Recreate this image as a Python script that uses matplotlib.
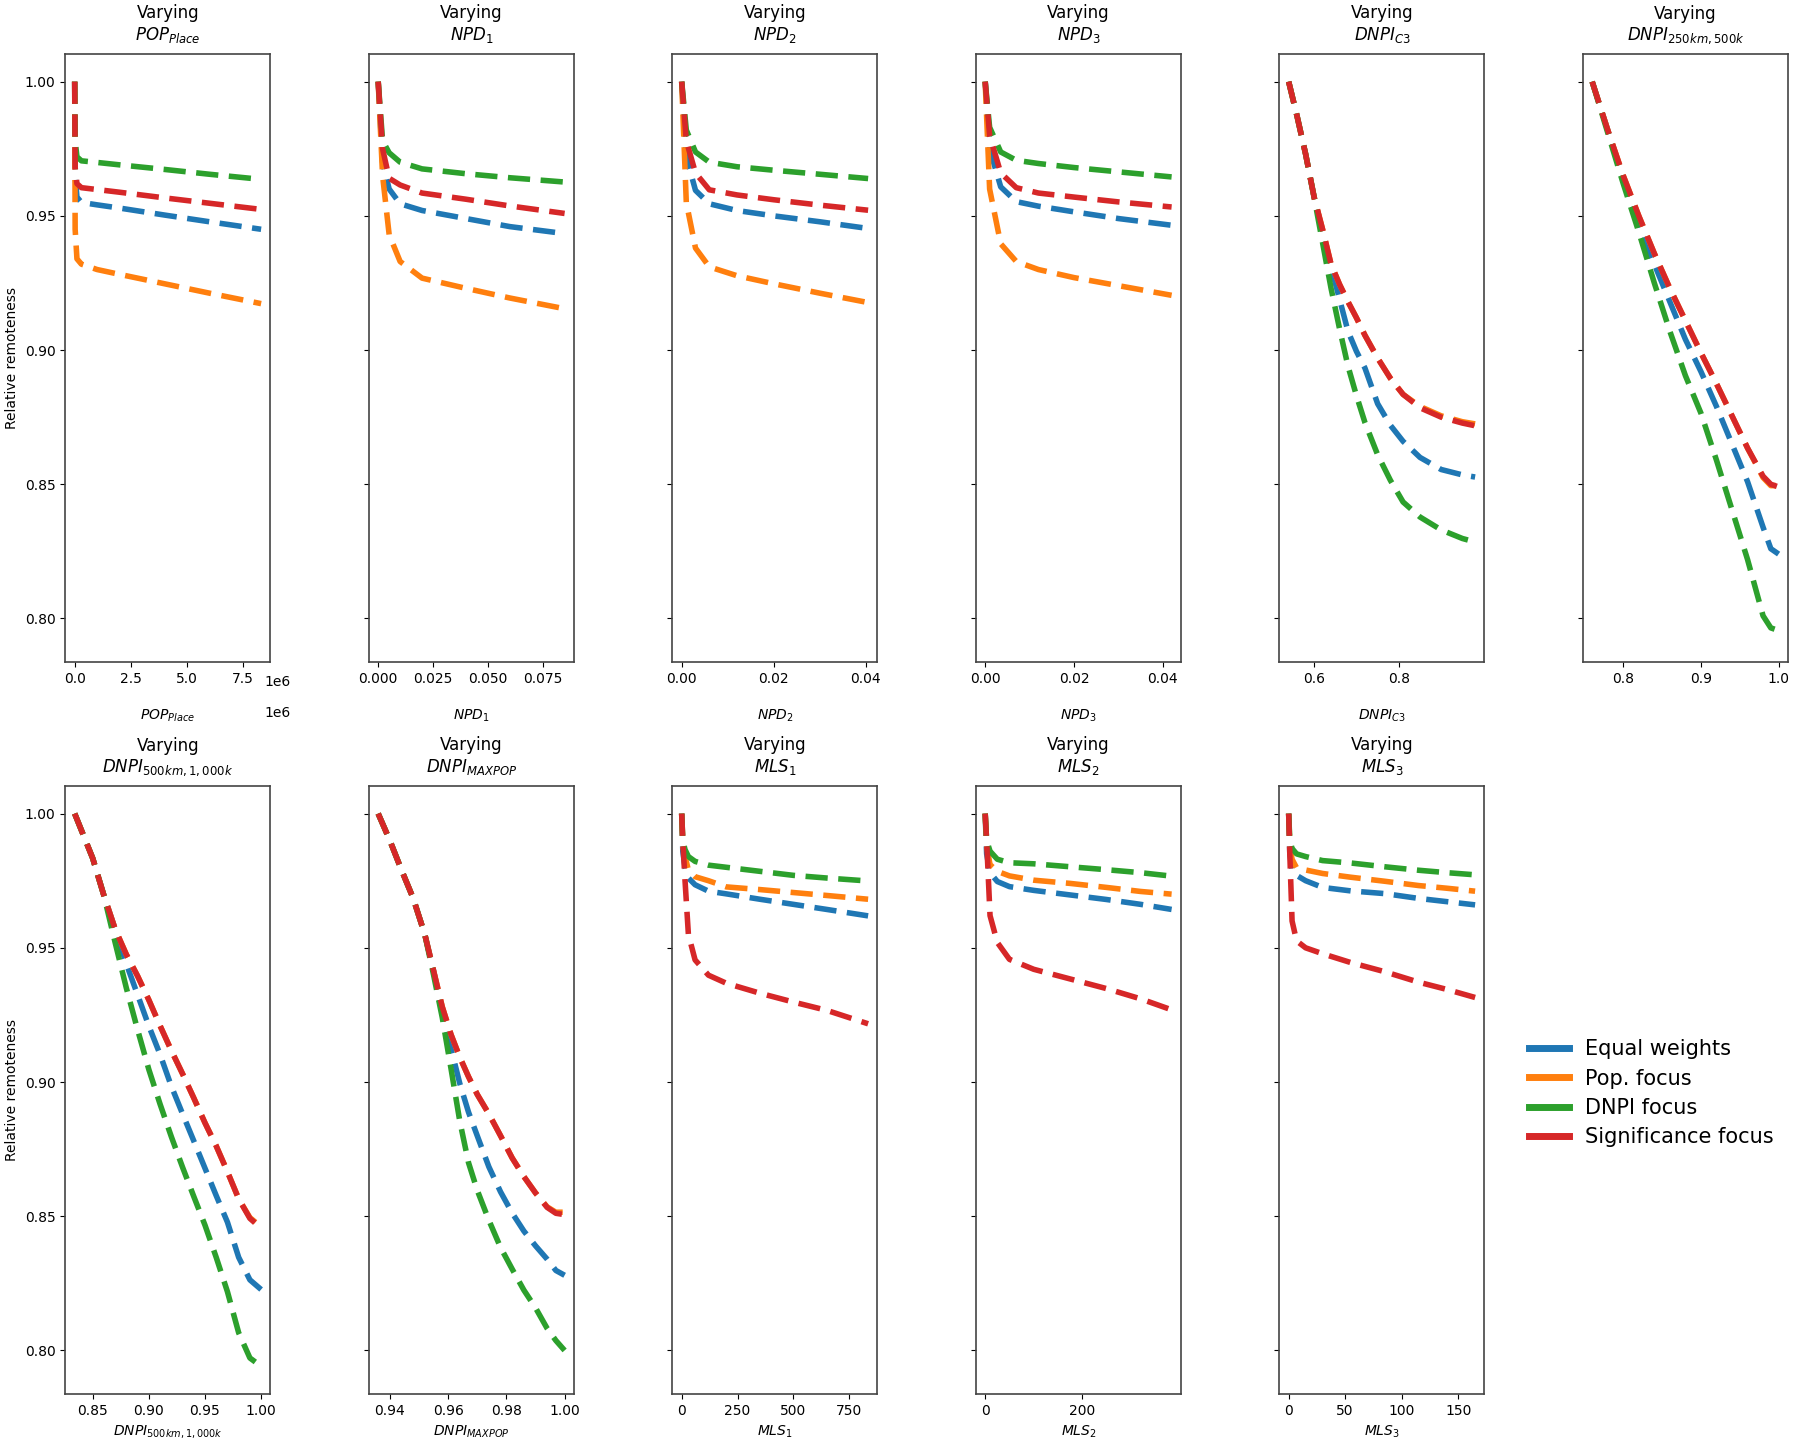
import numpy as np
import matplotlib.pyplot as plt
from matplotlib.lines import Line2D

labels = ["Equal weights", "Pop. focus", "DNPI focus", "Significance focus"]
colors = ["#1f77b4", "#ff7f0e", "#2ca02c", "#d62728"]

# --- POP_Place ---
x_pop = [0, 2e4, 1e5, 3e5, 1e6, 2e6, 4e6, 6e6, 8.3e6]
pop_equal = [1.0, 0.965, 0.957, 0.955, 0.9541, 0.9529, 0.9503, 0.9478, 0.945]
pop_pop = [1.0, 0.945, 0.934, 0.932, 0.930, 0.9282, 0.9247, 0.9212, 0.9173]
pop_dnpi = [1.0, 0.978, 0.972, 0.9705, 0.9699, 0.969, 0.9673, 0.9655, 0.9636]
pop_sig = [1.0, 0.968, 0.962, 0.9605, 0.9598, 0.9588, 0.9567, 0.9547, 0.9524]

# --- NPD_1 ---
x_npd1 = [0, 0.002, 0.005, 0.01, 0.02, 0.04, 0.06, 0.085]
npd1_equal = [1.0, 0.970, 0.960, 0.9545, 0.952, 0.949, 0.946, 0.9434]
npd1_pop = [1.0, 0.965, 0.943, 0.933, 0.9268, 0.923, 0.9194, 0.9154]
npd1_dnpi = [1.0, 0.978, 0.9735, 0.970, 0.9675, 0.9657, 0.9642, 0.9626]
npd1_sig = [1.0, 0.975, 0.964, 0.9615, 0.9585, 0.9562, 0.9537, 0.9509]

# --- NPD_2 ---
x_npd2 = [0, 0.001, 0.003, 0.006, 0.012, 0.02, 0.03, 0.0405]
npd2_equal = [1.0, 0.972, 0.9595, 0.9545, 0.952, 0.950, 0.9478, 0.9453]
npd2_pop = [1.0, 0.955, 0.938, 0.931, 0.9277, 0.9247, 0.9212, 0.9177]
npd2_dnpi = [1.0, 0.982, 0.9738, 0.970, 0.9683, 0.967, 0.9655, 0.9639]
npd2_sig = [1.0, 0.978, 0.966, 0.9597, 0.9578, 0.956, 0.954, 0.9521]

# --- NPD_3 ---
x_npd3 = [0, 0.001, 0.0035, 0.007, 0.012, 0.02, 0.03, 0.042]
npd3_equal = [1.0, 0.975, 0.9608, 0.9553, 0.9536, 0.9515, 0.949, 0.9465]
npd3_pop = [1.0, 0.96, 0.9396, 0.933, 0.930, 0.927, 0.924, 0.9204]
npd3_dnpi = [1.0, 0.983, 0.9738, 0.9707, 0.9695, 0.968, 0.9664, 0.9645]
npd3_sig = [1.0, 0.98, 0.966, 0.9605, 0.9585, 0.957, 0.9552, 0.9533]

# --- DNPI_C3 ---
x_c3 = [0.54, 0.56, 0.58, 0.60, 0.62, 0.64, 0.66, 0.68, 0.70, 0.72, 0.75, 0.78, 0.81, 0.85, 0.90, 0.95, 0.98]
c3_equal = [1.0, 0.987, 0.973, 0.957, 0.944, 0.931, 0.919, 0.907, 0.8995, 0.8933, 0.880, 0.872, 0.866, 0.860, 0.8555, 0.8535, 0.8527]
c3_pop = [1.0, 0.987, 0.973, 0.957, 0.945, 0.932, 0.9245, 0.918, 0.912, 0.9055, 0.897, 0.8895, 0.8835, 0.879, 0.8755, 0.8733, 0.8725]
c3_dnpi = [1.0, 0.987, 0.973, 0.957, 0.940, 0.923, 0.908, 0.894, 0.883, 0.873, 0.861, 0.8515, 0.8434, 0.8378, 0.833, 0.8298, 0.8285]
c3_sig = [1.0, 0.987, 0.973, 0.957, 0.945, 0.932, 0.9245, 0.918, 0.912, 0.9055, 0.897, 0.8895, 0.8835, 0.8785, 0.875, 0.8728, 0.8718]

# --- DNPI_250km,500k ---
x_250 = [0.76, 0.78, 0.80, 0.82, 0.84, 0.86, 0.88, 0.90, 0.92, 0.94, 0.96, 0.98, 0.99, 1.0]
s250_equal = [1.0, 0.982, 0.964, 0.947, 0.932, 0.918, 0.904, 0.892, 0.879, 0.865, 0.851, 0.834, 0.826, 0.824]
s250_pop = [1.0, 0.982, 0.965, 0.950, 0.936, 0.923, 0.911, 0.899, 0.8875, 0.8755, 0.8635, 0.8525, 0.8495, 0.8495]
s250_dnpi = [1.0, 0.981, 0.962, 0.944, 0.925, 0.907, 0.8905, 0.8765, 0.859, 0.8405, 0.822, 0.801, 0.7965, 0.7955]
s250_sig = [1.0, 0.982, 0.965, 0.950, 0.936, 0.923, 0.911, 0.899, 0.8875, 0.8755, 0.8635, 0.853, 0.850, 0.849]

# --- DNPI_500km,1000k ---
x_500 = [0.834, 0.85, 0.86, 0.87, 0.88, 0.89, 0.90, 0.91, 0.92, 0.93, 0.94, 0.95, 0.96, 0.97, 0.98, 0.99, 1.0]
s500_equal = [1.0, 0.9834, 0.9695, 0.957, 0.944, 0.9325, 0.9209, 0.9103, 0.8985, 0.8882, 0.8781, 0.8679, 0.8577, 0.8478, 0.8347, 0.8263, 0.8227]
s500_pop = [1.0, 0.9834, 0.9695, 0.957, 0.9475, 0.9395, 0.9306, 0.921, 0.9118, 0.9031, 0.8941, 0.8848, 0.8762, 0.8666, 0.8565, 0.8495, 0.846]
s500_dnpi = [1.0, 0.9834, 0.9695, 0.952, 0.935, 0.9195, 0.9047, 0.8918, 0.8797, 0.8683, 0.8574, 0.8467, 0.8347, 0.8219, 0.8066, 0.7972, 0.7941]
s500_sig = [1.0, 0.9834, 0.9695, 0.957, 0.9475, 0.9395, 0.9306, 0.921, 0.9118, 0.9031, 0.8941, 0.8848, 0.8762, 0.8666, 0.8565, 0.8492, 0.8455]

# --- DNPI_MAXPOP ---
x_max = [0.936, 0.940, 0.944, 0.948, 0.952, 0.955, 0.958, 0.961, 0.964, 0.967, 0.970, 0.974, 0.978, 0.982, 0.986, 0.990, 0.994, 0.997, 1.0]
max_equal = [1.0, 0.990, 0.979, 0.9685, 0.955, 0.9415, 0.926, 0.9125, 0.8995, 0.8888, 0.880, 0.8684, 0.8591, 0.8512, 0.8445, 0.839, 0.834, 0.8298, 0.828]
max_pop = [1.0, 0.990, 0.979, 0.9685, 0.955, 0.9415, 0.928, 0.9177, 0.9093, 0.902, 0.8954, 0.8881, 0.880, 0.8717, 0.8648, 0.8587, 0.8535, 0.8515, 0.8515]
max_dnpi = [1.0, 0.990, 0.979, 0.9685, 0.955, 0.940, 0.924, 0.905, 0.8855, 0.870, 0.8597, 0.8485, 0.8384, 0.8303, 0.8225, 0.8159, 0.8082, 0.8037, 0.800]
max_sig = [1.0, 0.990, 0.979, 0.9685, 0.955, 0.9415, 0.928, 0.9177, 0.9093, 0.902, 0.8954, 0.8881, 0.880, 0.8717, 0.8648, 0.8587, 0.8533, 0.8511, 0.8506]

# --- MLS_1 ---
x_mls1 = [0, 5, 15, 30, 60, 120, 200, 350, 500, 650, 835]
mls1_equal = [1.0, 0.986, 0.980, 0.976, 0.9735, 0.9711, 0.9701, 0.9681, 0.9662, 0.9643, 0.9619]
mls1_pop = [1.0, 0.988, 0.984, 0.979, 0.9765, 0.975, 0.9727, 0.9717, 0.9706, 0.9695, 0.9681]
mls1_dnpi = [1.0, 0.990, 0.9866, 0.984, 0.9822, 0.9808, 0.980, 0.9785, 0.977, 0.976, 0.9749]
mls1_sig = [1.0, 0.990, 0.975, 0.955, 0.9455, 0.9398, 0.9368, 0.9331, 0.9298, 0.9267, 0.9217]

# --- MLS_2 ---
x_mls2 = [0, 3, 10, 25, 50, 100, 175, 250, 320, 384]
mls2_equal = [1.0, 0.985, 0.978, 0.9747, 0.9728, 0.9714, 0.9697, 0.968, 0.9662, 0.9643]
mls2_pop = [1.0, 0.988, 0.981, 0.9785, 0.9768, 0.9752, 0.974, 0.9725, 0.971, 0.970]
mls2_dnpi = [1.0, 0.990, 0.986, 0.983, 0.9817, 0.9813, 0.9802, 0.9791, 0.978, 0.9767]
mls2_sig = [1.0, 0.990, 0.962, 0.952, 0.9457, 0.942, 0.9384, 0.9348, 0.931, 0.9269]

# --- MLS_3 ---
x_mls3 = [0, 1, 3, 7, 15, 30, 55, 85, 115, 140, 165]
mls3_equal = [1.0, 0.985, 0.979, 0.977, 0.975, 0.9725, 0.9712, 0.9702, 0.9684, 0.9672, 0.966]
mls3_pop = [1.0, 0.988, 0.983, 0.9798, 0.979, 0.9777, 0.9763, 0.9748, 0.9732, 0.9722, 0.9711]
mls3_dnpi = [1.0, 0.990, 0.987, 0.985, 0.984, 0.9825, 0.9816, 0.9802, 0.9789, 0.978, 0.9772]
mls3_sig = [1.0, 0.985, 0.960, 0.9526, 0.950, 0.9478, 0.9445, 0.9411, 0.9372, 0.9345, 0.9315]

titles = ["$POP_{Place}$", "$NPD_1$", "$NPD_2$", "$NPD_3$", "$DNPI_{C3}$", "$DNPI_{250km, 500k}$",
          "$DNPI_{500km, 1,000k}$", "$DNPI_{MAXPOP}$", "$MLS_1$", "$MLS_2$", "$MLS_3$"]
xlabels = ["$POP_{Place}$", "$NPD_1$", "$NPD_2$", "$NPD_3$", "$DNPI_{C3}$", "",
           "$DNPI_{500km, 1,000k}$", "$DNPI_{MAXPOP}$", "$MLS_1$", "$MLS_2$", "$MLS_3$"]
xticks = [[0, 2.5e6, 5e6, 7.5e6], [0, 0.025, 0.05, 0.075], [0, 0.02, 0.04], [0, 0.02, 0.04],
          [0.6, 0.8], [0.8, 0.9, 1.0], [0.85, 0.90, 0.95, 1.00], [0.94, 0.96, 0.98, 1.00],
          [0, 250, 500, 750], [0, 200], [0, 50, 100, 150]]

panels = [
    (x_pop, [pop_equal, pop_pop, pop_dnpi, pop_sig]),
    (x_npd1, [npd1_equal, npd1_pop, npd1_dnpi, npd1_sig]),
    (x_npd2, [npd2_equal, npd2_pop, npd2_dnpi, npd2_sig]),
    (x_npd3, [npd3_equal, npd3_pop, npd3_dnpi, npd3_sig]),
    (x_c3, [c3_equal, c3_pop, c3_dnpi, c3_sig]),
    (x_250, [s250_equal, s250_pop, s250_dnpi, s250_sig]),
    (x_500, [s500_equal, s500_pop, s500_dnpi, s500_sig]),
    (x_max, [max_equal, max_pop, max_dnpi, max_sig]),
    (x_mls1, [mls1_equal, mls1_pop, mls1_dnpi, mls1_sig]),
    (x_mls2, [mls2_equal, mls2_pop, mls2_dnpi, mls2_sig]),
    (x_mls3, [mls3_equal, mls3_pop, mls3_dnpi, mls3_sig]),
]

fig, axes = plt.subplots(2, 6, figsize=(17.96, 14.52), dpi=100, sharey=True)
fig.subplots_adjust(left=0.0364, right=0.9955, top=0.9628, bottom=0.040, wspace=0.48, hspace=0.204)

for i, (x, ys) in enumerate(panels):
    ax = axes.flat[i]
    for y, c in zip(ys, colors):
        ax.plot(x, y, color=c, lw=4, ls=(0, (4, 1.9)))
    ax.set_title("Varying\n" + titles[i], fontsize=12, pad=10)
    if xlabels[i]:
        # top row labels sit lower, next to the offset text row
        ax.set_xlabel(xlabels[i], fontsize=10, labelpad=16 if i < 6 else 4)
    ax.set_xticks(xticks[i])
    for s in ax.spines.values():
        s.set_color("#444444")
        s.set_linewidth(1.2)

# offset "1e6" shown twice in the source figure
ax0 = axes[0, 0]
ax0.xaxis.get_offset_text().set_visible(False)
ax0.text(0.97, -0.022, "1e6", transform=ax0.transAxes, fontsize=10, va="top", ha="left")
ax0.text(0.97, -0.072, "1e6", transform=ax0.transAxes, fontsize=10, va="top", ha="left")

ax0.set_yticks([0.80, 0.85, 0.90, 0.95, 1.00])
axes[0, 0].set_ylabel("Relative remoteness", fontsize=10)
axes[1, 0].set_ylabel("Relative remoteness", fontsize=10)
axes[1, 5].axis("off")

handles = [Line2D([], [], color=c, lw=5) for c in colors]
fig.legend(handles, labels, loc="center left", bbox_to_anchor=(0.841, 0.247), frameon=False,
           fontsize=15, handlelength=1.9, handletextpad=0.8, labelspacing=0.45)

fig.savefig("out.png", dpi=100)
